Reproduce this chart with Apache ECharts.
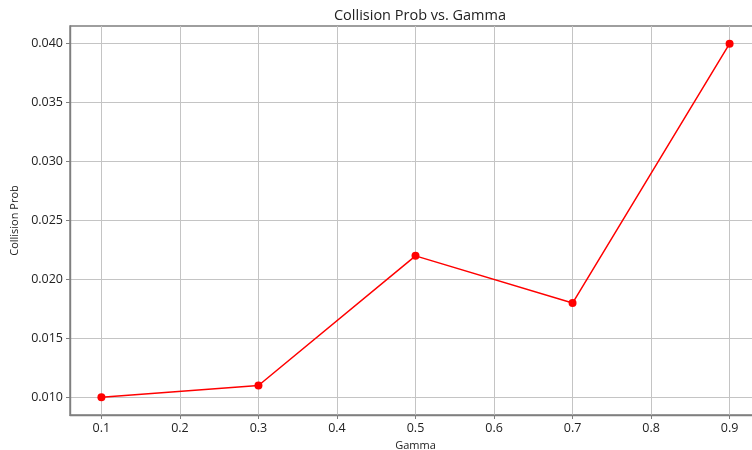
<!DOCTYPE html>
<html>
<head>
<meta charset="utf-8">
<script src="https://cdn.jsdelivr.net/npm/echarts@6/dist/echarts.min.js"></script>
<style>
  html, body { margin: 0; padding: 0; background: #fff; }
  #chart { width: 752px; height: 450px; }
</style>
</head>
<body>
<div id="chart"></div>
<script>
// Gamma settings and the measured collision probability at each
const gamma = [0.1, 0.3, 0.5, 0.7, 0.9];
const collisionProb = [0.010, 0.011, 0.022, 0.018, 0.040];

// Tick positions shown on each axis
const xTicks = [0.1, 0.2, 0.3, 0.4, 0.5, 0.6, 0.7, 0.8, 0.9];
const yTicks = [0.010, 0.015, 0.020, 0.025, 0.030, 0.035, 0.040];

// Axis extents with 5% padding around the data
const xMin = 0.06, xMax = 0.94;
const yMin = 0.0085, yMax = 0.0415;

const FONT = 'Open Sans';
const SPINE = '#7f7f7f';
const GRID = '#c4c4c4';

const chart = echarts.init(document.getElementById('chart'), null, { renderer: 'canvas' });

chart.setOption({
  animation: false,
  backgroundColor: '#ffffff',
  title: {
    text: 'Collision Prob vs. Gamma',
    left: 415,
    top: 3,
    textAlign: 'center',
    textStyle: { fontFamily: FONT, fontSize: 14.5, fontWeight: 'normal', color: '#222' }
  },
  grid: {
    left: 70, top: 26, right: -9, bottom: 35,
    containLabel: false,
    outerBoundsMode: 'none',
    show: true, borderColor: SPINE, borderWidth: 1.4, backgroundColor: 'transparent'
  },
  xAxis: {
    type: 'value',
    min: xMin, max: xMax,
    name: 'Gamma',
    nameLocation: 'middle',
    nameGap: 19,
    nameTextStyle: { fontFamily: FONT, fontSize: 11, color: '#222' },
    axisLine: { show: true, lineStyle: { color: SPINE, width: 1.4 } },
    axisTick: { show: true, length: 4, customValues: xTicks, lineStyle: { color: SPINE, width: 1 } },
    axisLabel: {
      customValues: xTicks, margin: 7,
      fontFamily: FONT, fontSize: 12.5, color: '#222',
      formatter: v => v.toFixed(1)
    },
    splitLine: { show: true, customValues: xTicks, lineStyle: { color: GRID, width: 1 } }
  },
  yAxis: {
    type: 'value',
    min: yMin, max: yMax,
    name: 'Collision Prob',
    nameLocation: 'middle',
    nameRotate: 90,
    nameGap: 50,
    nameTextStyle: { fontFamily: FONT, fontSize: 11, color: '#222' },
    axisLine: { show: true, lineStyle: { color: SPINE, width: 1.4 } },
    axisTick: { show: true, length: 4, customValues: yTicks, lineStyle: { color: SPINE, width: 1 } },
    axisLabel: {
      customValues: yTicks, margin: 7,
      fontFamily: FONT, fontSize: 12.5, color: '#222',
      formatter: v => v.toFixed(3)
    },
    splitLine: { show: true, customValues: yTicks, lineStyle: { color: GRID, width: 1 } }
  },
  series: [{
    type: 'line',
    data: gamma.map((g, i) => [g, collisionProb[i]]),
    symbol: 'circle',
    symbolSize: 8,
    showSymbol: true,
    lineStyle: { color: '#ff0000', width: 1.5 },
    itemStyle: { color: '#ff0000' }
  }]
});
</script>
</body>
</html>
